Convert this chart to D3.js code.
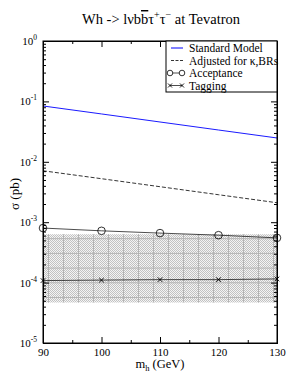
<!DOCTYPE html>
<html>
<head>
<meta charset="utf-8">
<script src="https://cdn.jsdelivr.net/npm/d3@7"></script>
<style>
  html, body { margin: 0; padding: 0; background: #fff; }
  svg text { font-family: "Liberation Serif", "Times New Roman", serif !important; fill: #000; }
</style>
</head>
<body>
<div id="chart"></div>
<script>
// data
const masses = [90, 100, 110, 120, 130];
const smXsec = [0.084, 0.062, 0.0456, 0.0336, 0.0248];
const adjXsec = [0.0071, 0.00525, 0.00387, 0.00285, 0.0021];
const accXsec = [8.0e-4, 7.2e-4, 6.6e-4, 6.1e-4, 5.5e-4];
const tagXsec = [1.08e-4, 1.1e-4, 1.12e-4, 1.12e-4, 1.15e-4];
const bandLow = [4.7e-5, 4.7e-5, 4.7e-5, 4.7e-5, 4.7e-5];
const bandHigh = [6.3e-4, 6.3e-4, 6.3e-4, 6.3e-4, 6.3e-4];
const xTicks = [90, 100, 110, 120, 130];
const yDecades = [-5, -4, -3, -2, -1, 0];
const legendLabels = ["Standard Model", "Adjusted for \u03ba,BRs", "Acceptance", "Tagging"];

const width = 289, height = 374;
const margin = { top: 41, right: 12, bottom: 31, left: 43 };
const serif = "Liberation Serif";
const smBlue = "#0000ff";

const svg = d3.select("#chart").append("svg")
  .attr("width", width)
  .attr("height", height)
  .attr("font-family", serif);

const x = d3.scaleLinear().domain([90, 130]).range([margin.left, width - margin.right]);
const y = d3.scaleLog().domain([1e-5, 1]).range([height - margin.bottom, margin.top]);

// patterns for the shaded band
const defs = svg.append("defs");
const checker = defs.append("pattern").attr("id", "checker")
  .attr("patternUnits", "userSpaceOnUse").attr("width", 2).attr("height", 2);
checker.append("rect").attr("width", 2).attr("height", 2).attr("fill", "#f4f4f4");
checker.append("rect").attr("width", 1).attr("height", 1).attr("fill", "#c2c2c2");
checker.append("rect").attr("x", 1).attr("y", 1).attr("width", 1).attr("height", 1).attr("fill", "#c2c2c2");

const grid = defs.append("pattern").attr("id", "grid")
  .attr("patternUnits", "userSpaceOnUse").attr("width", 15).attr("height", 14.7)
  .attr("x", 3).attr("y", 3);
grid.append("path").attr("d", "M0.5,0V14.7M0,0.5H15")
  .attr("stroke", "#b4b4b4").attr("stroke-width", 1).attr("fill", "none");

const band = masses.map((m, i) => ({ m, lo: bandLow[i], hi: bandHigh[i] }));
const areaGen = d3.area().x(d => x(d.m)).y0(d => y(d.lo)).y1(d => y(d.hi));
svg.append("path").datum(band).attr("d", areaGen).attr("fill", "url(#checker)");
svg.append("path").datum(band).attr("d", areaGen).attr("fill", "url(#grid)");

// lines
const lineGen = d3.line().x(d => x(d.m)).y(d => y(d.v));
const series = arr => masses.map((m, i) => ({ m, v: arr[i] }));

svg.append("path").datum(series(smXsec)).attr("d", lineGen)
  .attr("fill", "none").attr("stroke", smBlue).attr("stroke-width", 0.9);
svg.append("path").datum(series(adjXsec)).attr("d", lineGen)
  .attr("fill", "none").attr("stroke", "#000").attr("stroke-width", 0.8)
  .attr("stroke-dasharray", "4,2");
svg.append("path").datum(series(accXsec)).attr("d", lineGen)
  .attr("fill", "none").attr("stroke", "#000").attr("stroke-width", 0.7);
svg.append("path").datum(series(tagXsec)).attr("d", lineGen)
  .attr("fill", "none").attr("stroke", "#000").attr("stroke-width", 0.7);

svg.selectAll(".acc").data(series(accXsec)).enter().append("circle")
  .attr("cx", d => x(d.m)).attr("cy", d => y(d.v)).attr("r", 3.8)
  .attr("fill", "none").attr("stroke", "#000").attr("stroke-width", 0.8);

const cross = (g, cx, cy, s) => g.append("path")
  .attr("d", `M${cx - s},${cy - s}L${cx + s},${cy + s}M${cx - s},${cy + s}L${cx + s},${cy - s}`)
  .attr("stroke", "#000").attr("stroke-width", 0.9).attr("fill", "none");
series(tagXsec).forEach(d => cross(svg, x(d.m), y(d.v), 2.3));

// axes (ticks point inward on all four sides)
const minorX = d3.range(95, 130, 10);
const minorY = [];
yDecades.slice(0, -1).forEach(e => { for (let k = 2; k < 10; k++) minorY.push(k * Math.pow(10, e)); });

const axisStyle = g => {
  g.attr("font-family", serif);
  g.select(".domain").attr("stroke", "#000");
  g.selectAll("line").attr("stroke", "#000");
};

svg.append("g").attr("transform", `translate(0,${height - margin.bottom})`)
  .call(d3.axisBottom(x).tickValues(xTicks).tickSize(-6).tickPadding(5).tickFormat(d3.format("d")))
  .call(axisStyle)
  .call(g => g.selectAll("text").attr("font-size", 11));
svg.append("g").attr("transform", `translate(0,${height - margin.bottom})`)
  .call(d3.axisBottom(x).tickValues(minorX).tickSize(-3).tickFormat(""))
  .call(axisStyle);
svg.append("g").attr("transform", `translate(0,${margin.top})`)
  .call(d3.axisTop(x).tickValues(xTicks).tickSize(-6).tickFormat(""))
  .call(axisStyle);
svg.append("g").attr("transform", `translate(0,${margin.top})`)
  .call(d3.axisTop(x).tickValues(minorX).tickSize(-3).tickFormat(""))
  .call(axisStyle);

const decVals = yDecades.map(e => Math.pow(10, e));
svg.append("g").attr("transform", `translate(${margin.left},0)`)
  .call(d3.axisLeft(y).tickValues(decVals).tickSize(-6).tickFormat(""))
  .call(axisStyle);
svg.append("g").attr("transform", `translate(${margin.left},0)`)
  .call(d3.axisLeft(y).tickValues(minorY).tickSize(-3).tickFormat(""))
  .call(axisStyle);
svg.append("g").attr("transform", `translate(${width - margin.right},0)`)
  .call(d3.axisRight(y).tickValues(decVals).tickSize(-6).tickFormat(""))
  .call(axisStyle);
svg.append("g").attr("transform", `translate(${width - margin.right},0)`)
  .call(d3.axisRight(y).tickValues(minorY).tickSize(-3).tickFormat(""))
  .call(axisStyle);

// y tick labels 10^n
const yLab = svg.append("g").selectAll("text").data(yDecades).enter().append("text")
  .attr("x", margin.left - 6).attr("y", d => y(Math.pow(10, d)) + 4)
  .attr("text-anchor", "end").attr("font-size", 11);
yLab.append("tspan").text("10");
yLab.append("tspan").attr("dy", -5).attr("font-size", 7.5).text(d => d);

// frame
svg.append("rect").attr("x", margin.left).attr("y", margin.top)
  .attr("width", width - margin.left - margin.right).attr("height", height - margin.top - margin.bottom)
  .attr("fill", "none").attr("stroke", "#000").attr("stroke-width", 1);

// title
const title = svg.append("text").attr("x", 161).attr("y", 24)
  .attr("text-anchor", "middle").attr("font-size", 14.5);
title.append("tspan").text("Wh -> l\u03bdb");
title.append("tspan").style("text-decoration", "overline").text("b");
title.append("tspan").text("\u03c4");
title.append("tspan").attr("dy", -6).attr("font-size", 10).text("+");
title.append("tspan").attr("dy", 6).text("\u03c4");
title.append("tspan").attr("dy", -6).attr("font-size", 10).text("\u2212");
title.append("tspan").attr("dy", 6).text(" at Tevatron");

// axis titles
const xt = svg.append("text").attr("x", 160).attr("y", 368)
  .attr("text-anchor", "middle").attr("font-size", 12.5);
xt.append("tspan").text("m");
xt.append("tspan").attr("dy", 3).attr("font-size", 8.5).text("h");
xt.append("tspan").attr("dy", -3).text(" (GeV)");

svg.append("text").attr("transform", `translate(19,${(margin.top + height - margin.bottom) / 2 + 2}) rotate(-90)`)
  .attr("text-anchor", "middle").attr("font-size", 13).text("\u03c3 (pb)");

// legend
const lg = svg.append("g");
const lgX = 166, lgY = margin.top, lgW = width - margin.right - lgX, lgH = 51;
lg.append("rect").attr("x", lgX).attr("y", lgY).attr("width", lgW).attr("height", lgH)
  .attr("fill", "#fff").attr("stroke", "#000").attr("stroke-width", 1);
const rowY = i => lgY + 7 + i * 12.5;
legendLabels.forEach((lab, i) => {
  lg.append("text").attr("x", 189).attr("y", rowY(i) + 4).attr("font-size", 11.5).text(lab);
});
lg.append("path").attr("d", `M171,${rowY(0)}H183`)
  .attr("stroke", smBlue).attr("stroke-width", 1).attr("fill", "none");
lg.append("line").attr("x1", 171).attr("x2", 183).attr("y1", rowY(1)).attr("y2", rowY(1))
  .attr("stroke", "#000").attr("stroke-width", 0.8).attr("stroke-dasharray", "3,1.5");
lg.append("line").attr("x1", 170).attr("x2", 182).attr("y1", rowY(2)).attr("y2", rowY(2))
  .attr("stroke", "#000").attr("stroke-width", 0.7);
[170, 182].forEach(cx => lg.append("circle").attr("cx", cx).attr("cy", rowY(2)).attr("r", 2.8)
  .attr("fill", "#fff").attr("stroke", "#000").attr("stroke-width", 0.8));
lg.append("line").attr("x1", 170).attr("x2", 182).attr("y1", rowY(3)).attr("y2", rowY(3))
  .attr("stroke", "#000").attr("stroke-width", 0.7);
[170, 182].forEach(cx => cross(lg, cx, rowY(3), 2));
</script>
</body>
</html>
